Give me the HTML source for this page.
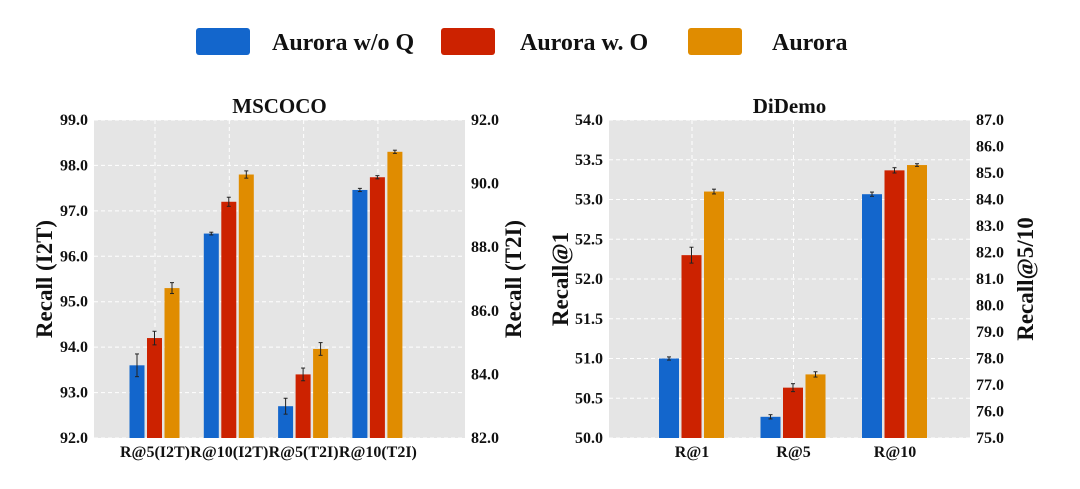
<!DOCTYPE html>
<html><head><meta charset="utf-8"><style>
body{margin:0;background:#fff;width:1080px;height:484px;overflow:hidden}
svg text{font-family:"Liberation Serif",serif;font-weight:bold;fill:#111}
</style></head><body>
<svg id="c" width="1080" height="484"></svg>
<script>
const seriesNames=["Aurora w/o Q","Aurora w. O","Aurora"];
const colors=["#1366cc","#cc2200","#e08c00"];
const cocoCats=["R@5(I2T)","R@10(I2T)","R@5(T2I)","R@10(T2I)"];
const cocoAxis=["L","L","R","R"];
const cocoWoQ=[93.6,96.5,83.0,89.8];
const cocoWO=[94.2,97.2,84.0,90.2];
const cocoAur=[95.3,97.8,84.8,91.0];
const cocoErrWoQ=[0.25,0.03,0.25,0.05];
const cocoErrWO=[0.15,0.1,0.2,0.05];
const cocoErrAur=[0.12,0.08,0.2,0.05];
const cocoLeftTicks=[92,93,94,95,96,97,98,99];
const cocoRightTicks=[82,84,86,88,90,92];
const didCats=["R@1","R@5","R@10"];
const didAxis=["L","R","R"];
const didWoQ=[51.0,75.8,84.2];
const didWO=[52.3,76.9,85.1];
const didAur=[53.1,77.4,85.3];
const didErrWoQ=[0.02,0.08,0.08];
const didErrWO=[0.1,0.15,0.1];
const didErrAur=[0.03,0.1,0.05];
const didLeftTicks=[50,50.5,51,51.5,52,52.5,53,53.5,54];
const didRightTicks=[75,76,77,78,79,80,81,82,83,84,85,86,87];

const NS="http://www.w3.org/2000/svg";
const svg=document.getElementById('c');
function mk(t,a,p){const e=document.createElementNS(NS,t);for(const k in a)e.setAttribute(k,a[k]);(p||svg).appendChild(e);return e;}

// legend
const legX=[196,441,688],legT=[272,520,772];
seriesNames.forEach((n,i)=>{
 const r=mk('rect',{x:legX[i],y:28,width:54,height:27,rx:3,fill:colors[i]});
 
 
 const t=mk('text',{x:legT[i],y:50,'font-size':24});t.textContent=n;
 
 
});

function panel(o){
 const g=mk('g',{});
 
 
 const {x0,x1,y0,y1}=o;
 mk('rect',{x:x0,y:y0,width:x1-x0,height:y1-y0,fill:'#e5e5e5'},g);
 const yL=v=>y1-(v-o.lmin)/(o.lmax-o.lmin)*(y1-y0);
 const yR=v=>y1-(v-o.rmin)/(o.rmax-o.rmin)*(y1-y0);
 const xC=i=>o.c0+i*o.step;
 o.lt.forEach(v=>{const y=yL(v);
  mk('line',{x1:x0,x2:x1,y1:y,y2:y,stroke:'#fff','stroke-dasharray':'4,3','stroke-width':1},g);
  const t=mk('text',{x:x0-6,y:y+5,'font-size':16,'text-anchor':'end'},g);t.textContent=v.toFixed(1);
  });
 o.rt.forEach(v=>{const y=yR(v);
  const t=mk('text',{x:x1+6,y:y+5,'font-size':16},g);t.textContent=v.toFixed(1);
  });
 o.cats.forEach((c,i)=>{const x=xC(i);
  mk('line',{x1:x,x2:x,y1:y0,y2:y1,stroke:'#fff','stroke-dasharray':'4,3'},g);
  const t=mk('text',{x:x,y:y1+19,'font-size':16,'text-anchor':'middle'},g);t.textContent=c;
  });
 const vals=[o.a,o.b,o.c],errs=[o.ea,o.eb,o.ec];
 o.cats.forEach((c,i)=>{
  for(let s=0;s<3;s++){
   const f=o.axis[i]=='L'?yL:yR;
   const v=vals[s][i],e=errs[s][i];
   const bx=xC(i)+(s-1.5)*o.bw+ (s-1)*1.5;
   const y=f(v);
   const r=mk('rect',{x:bx,y:y,width:o.bw-1,height:y1-y,fill:colors[s]},g);
   
   const cx=bx+(o.bw-1)/2;
   mk('line',{x1:cx,x2:cx,y1:f(v+e),y2:f(v-e),stroke:'#222','stroke-width':1},g);
   mk('line',{x1:cx-2,x2:cx+2,y1:f(v+e),y2:f(v+e),stroke:'#222'},g);
   mk('line',{x1:cx-2,x2:cx+2,y1:f(v-e),y2:f(v-e),stroke:'#222'},g);
  }});
 const t=mk('text',{x:(x0+x1)/2,y:y0-7,'font-size':21,'text-anchor':'middle'},g);t.textContent=o.title;
 
 const l=mk('text',{x:0,y:0,'font-size':23,'text-anchor':'middle',transform:`translate(${o.lx},${(y0+y1)/2}) rotate(-90)`},g);l.textContent=o.ll;
 
 const r=mk('text',{x:0,y:0,'font-size':23,'text-anchor':'middle',transform:`translate(${o.rx},${(y0+y1)/2}) rotate(-90)`},g);r.textContent=o.rl;
 
}
panel({name:'mscoco-panel',title:'MSCOCO',x0:94,x1:465,y0:120,y1:438,lmin:92,lmax:99,rmin:82,rmax:92,
 lt:cocoLeftTicks,rt:cocoRightTicks,cats:cocoCats,axis:cocoAxis,a:cocoWoQ,b:cocoWO,c:cocoAur,
 ea:cocoErrWoQ,eb:cocoErrWO,ec:cocoErrAur,c0:155,step:74.3,bw:16,lx:52,rx:521,ll:'Recall (I2T)',rl:'Recall (T2I)'});
panel({name:'didemo-panel',title:'DiDemo',x0:609,x1:970,y0:120,y1:438,lmin:50,lmax:54,rmin:75,rmax:87,
 lt:didLeftTicks,rt:didRightTicks,cats:didCats,axis:didAxis,a:didWoQ,b:didWO,c:didAur,
 ea:didErrWoQ,eb:didErrWO,ec:didErrAur,c0:692,step:101.5,bw:21,lx:568,rx:1033,ll:'Recall@1',rl:'Recall@5/10'});
</script>
</body></html>
